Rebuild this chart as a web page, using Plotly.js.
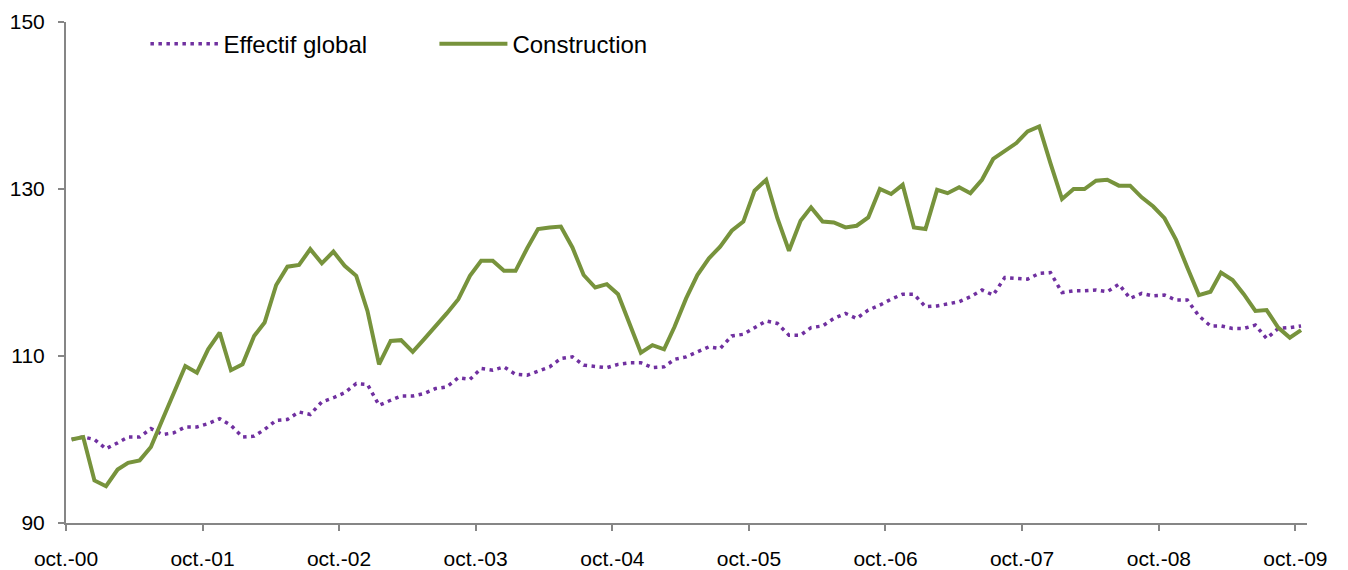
<!DOCTYPE html>
<html>
<head>
<meta charset="utf-8">
<script src="https://cdn.plot.ly/plotly-3.0.1.min.js"></script>
<style>
  html, body { margin: 0; padding: 0; background: #fff; }
  #chart { width: 1348px; height: 570px; }
</style>
</head>
<body>
<div id="chart"></div>
<script>
// Monthly indices, oct. 2000 = 100 (oct. 2000 -> oct. 2009)
const startYear = 2000;
const startMonth = 10;

const effectifGlobal = [
    100.0, 100.3, 100.0, 98.9, 99.6, 100.3, 100.3, 101.3, 100.6, 100.8, 101.5, 101.5,
    101.9, 102.5, 101.7, 100.3, 100.4, 101.2, 102.3, 102.4, 103.3, 103.0, 104.5, 105.0,
    105.6, 106.7, 106.6, 104.1, 104.7, 105.2, 105.2, 105.5, 106.1, 106.3, 107.4, 107.2,
    108.5, 108.3, 108.7, 107.8, 107.7, 108.2, 108.7, 109.7, 109.9, 108.9, 108.8, 108.6,
    109.0, 109.2, 109.2, 108.6, 108.7, 109.6, 109.9, 110.5, 111.1, 110.9, 112.4, 112.6,
    113.4, 114.2, 113.9, 112.5, 112.5, 113.4, 113.6, 114.5, 115.1, 114.5, 115.5, 116.1,
    116.8, 117.4, 117.4, 115.9, 116.0, 116.2, 116.5, 117.1, 117.9, 117.3, 119.4, 119.3,
    119.2, 119.9, 120.0, 117.6, 117.8, 117.8, 117.9, 117.7, 118.6, 116.9, 117.5, 117.2,
    117.3, 116.7, 116.7, 114.8, 113.6, 113.6, 113.3, 113.3, 113.7, 112.1, 113.3, 113.4,
    113.6
];

const construction = [
    100.0, 100.3, 95.1, 94.4, 96.4, 97.2, 97.5, 99.1, 102.4, 105.7, 108.8, 108.0,
    110.8, 112.8, 108.3, 109.0, 112.4, 114.0, 118.5, 120.7, 120.9, 122.8, 121.1, 122.5,
    120.8, 119.6, 115.4, 109.0, 111.8, 111.9, 110.5, 112.0, 113.5, 115.1, 116.8, 119.6,
    121.4, 121.4, 120.2, 120.2, 122.9, 125.2, 125.4, 125.5, 123.0, 119.7, 118.2, 118.6,
    117.4, 113.8, 110.4, 111.3, 110.8, 113.5, 116.9, 119.7, 121.7, 123.1, 125.0, 126.1,
    129.8, 131.1, 126.5, 122.6, 126.2, 127.8, 126.1, 126.0, 125.4, 125.6, 126.6, 130.0,
    129.4, 130.5, 125.4, 125.2, 129.9, 129.5, 130.2, 129.5, 131.1, 133.6, 134.5, 135.5,
    136.9, 137.5, 133.1, 128.8, 130.0, 130.0, 131.0, 131.1, 130.4, 130.4, 129.0, 127.9,
    126.5, 123.9, 120.6, 117.3, 117.7, 120.0, 119.1, 117.4, 115.4, 115.5, 113.4, 112.2,
    113.1
];

const tickLabels = ['oct.-00', 'oct.-01', 'oct.-02', 'oct.-03', 'oct.-04',
                    'oct.-05', 'oct.-06', 'oct.-07', 'oct.-08', 'oct.-09'];
const yTicks = [90, 110, 130, 150];

// Each month is plotted in the middle of its slot on the date axis
function pad(n) { return (n < 10 ? '0' : '') + n; }
const months = effectifGlobal.map((v, i) => {
    const m = startMonth - 1 + i;
    return (startYear + Math.floor(m / 12)) + '-' + pad(m % 12 + 1) + '-16';
});
const tickVals = tickLabels.map((t, k) => (startYear + k) + '-' + pad(startMonth) + '-01');

const font = 'Liberation Sans, Arial, sans-serif';

const traceEffectif = {
    x: months,
    y: effectifGlobal,
    name: 'Effectif global',
    type: 'scatter',
    mode: 'lines',
    line: { color: '#7030A0', width: 3.5, dash: '3.5px,4.5px' }
};

const traceConstruction = {
    x: months,
    y: construction,
    name: 'Construction',
    type: 'scatter',
    mode: 'lines',
    line: { color: '#77933C', width: 4 }
};

const layout = {
    width: 1348,
    height: 570,
    margin: { l: 66, r: 41, t: 22, b: 47, pad: 0 },
    paper_bgcolor: '#fff',
    plot_bgcolor: '#fff',
    font: { family: font, size: 21, color: '#000' },
    showlegend: true,
    legend: {
        orientation: 'h',
        x: 0.064,
        xanchor: 'left',
        y: 0.956,
        yanchor: 'middle',
        font: { family: font, size: 24, color: '#000' },
        itemwidth: 68,
        entrywidth: 206,
        entrywidthmode: 'pixels',
        bgcolor: 'rgba(0,0,0,0)'
    },
    xaxis: {
        type: 'date',
        range: ['2000-10-01', '2009-11-01'],
        tickvals: tickVals,
        ticktext: tickLabels,
        ticks: 'outside',
        ticklen: 6,
        tickwidth: 2,
        tickcolor: '#868686',
        showline: true,
        linecolor: '#868686',
        linewidth: 2,
        showgrid: false,
        zeroline: false,
        ticklabelstandoff: 10,
        tickfont: { family: font, size: 21, color: '#000' }
    },
    yaxis: {
        range: [90, 150],
        tickvals: yTicks,
        ticks: 'outside',
        ticklen: 6,
        tickwidth: 2,
        tickcolor: '#868686',
        showline: true,
        linecolor: '#868686',
        linewidth: 2,
        showgrid: false,
        zeroline: false,
        ticklabelstandoff: 9,
        tickfont: { family: font, size: 21, color: '#000' }
    }
};

const config = { displayModeBar: false, staticPlot: true };

Plotly.newPlot('chart', [traceEffectif, traceConstruction], layout, config);
</script>
</body>
</html>
